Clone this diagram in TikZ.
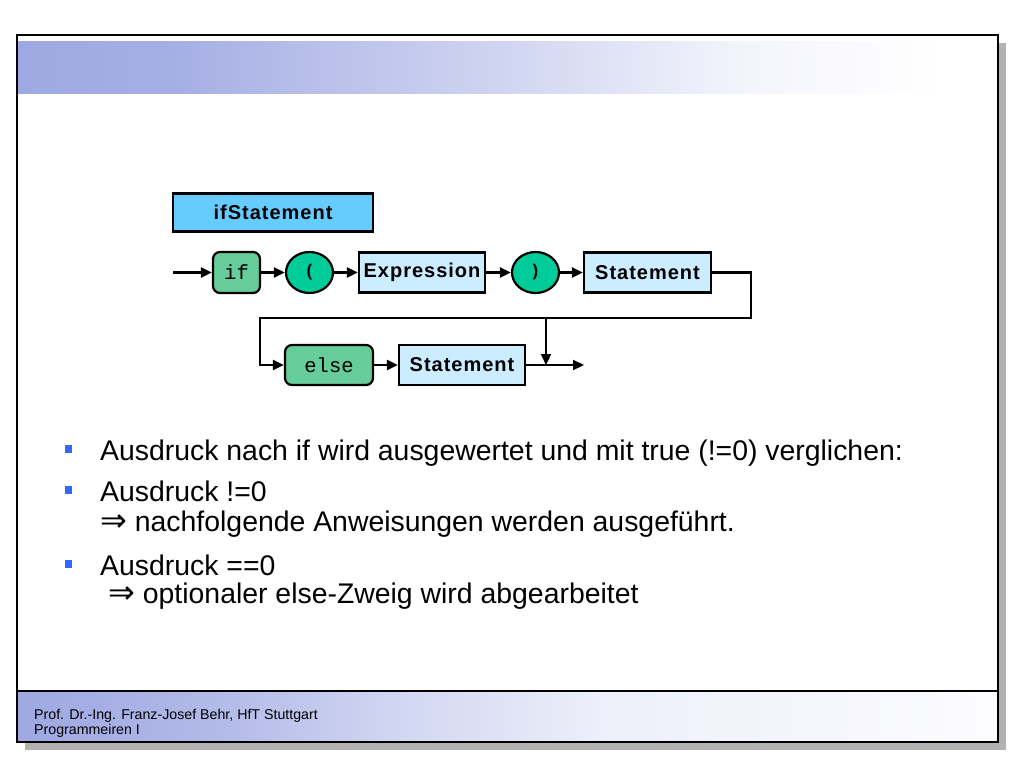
\documentclass[tikz,border=0pt]{standalone}
\usepackage{fontspec}
\setmainfont{Liberation Sans}
\setmonofont{Liberation Mono}
\newfontfamily\diagfont[LetterSpace=5]{Liberation Sans}
\newfontfamily\arrowfont{DejaVu Sans}
\usetikzlibrary{arrows.meta,shapes.geometric}

\definecolor{hdr}{RGB}{158,168,226}
\definecolor{boxblue}{RGB}{102,204,255}
\definecolor{lightblue}{RGB}{204,236,255}
\definecolor{termgreen}{RGB}{102,204,153}
\definecolor{circgreen}{RGB}{0,204,153}
\definecolor{bulletblue}{RGB}{51,102,255}
\definecolor{shadowgray}{RGB}{178,178,178}

\pgfdeclarehorizontalshading{hdrshade}{100bp}{color(0bp)=(hdr); color(25bp)=(hdr); color(33bp)=(hdr!92!white); color(50bp)=(hdr!48!white); color(62bp)=(hdr!12!white); color(72bp)=(white); color(100bp)=(white)}
\pgfdeclarehorizontalshading{ftrshade}{100bp}{color(0bp)=(hdr); color(25bp)=(hdr); color(35bp)=(hdr!80!white); color(45bp)=(hdr!45!white); color(55bp)=(hdr!18!white); color(75bp)=(white!97!hdr); color(100bp)=(white!97!hdr)}

\tikzset{
  conn/.style={line width=2.2pt, draw=black},
  arr/.style={conn, -{Triangle[length=11pt,width=10pt]}},
  nonterm/.style={draw=black, line width=2.2pt, fill=lightblue, minimum height=40pt, inner sep=0pt, font=\fontsize{20}{22}\diagfont\bfseries},
  term/.style={draw=black, line width=2.2pt, fill=termgreen, rounded corners=7pt, minimum height=41pt, inner sep=0pt, font=\fontsize{20.5}{22}\selectfont\ttfamily},
  circ/.style={draw=black, line width=2.2pt, fill=circgreen, ellipse, minimum width=47pt, minimum height=41pt, inner sep=0pt, font=\fontsize{17}{20}\selectfont\bfseries},
  bodytext/.style={anchor=base west, inner sep=0pt, text height=20pt, text depth=6pt, font=\fontsize{28.4}{32}\selectfont},
  bulletsq/.style={fill=bulletblue, minimum width=7pt, minimum height=8pt, inner sep=0pt},
  foottext/.style={anchor=base west, inner sep=0pt, font=\fontsize{14.2}{16}\selectfont}
}
\newcommand{\impl}{{\fontsize{32}{32}\arrowfont ⇒}}

\begin{document}
\begin{tikzpicture}[x=1pt,y=-1pt]
\useasboundingbox (0,0) rectangle (1024,768);
\fill[white] (0,0) rectangle (1024,768);
% slide frame with shadow
\fill[shadowgray] (25,43) rectangle (1006,750);
\fill[white] (17,35) rectangle (998,742);
\shade[shading=hdrshade] (17,42) rectangle (998,93);
\shade[shading=ftrshade] (17,691) rectangle (998,742);
\draw[line width=1.5pt] (17,35) rectangle (998,742);
\draw[line width=1.5pt] (17,691) -- (998,691);

% syntax diagram
\node[nonterm, fill=boxblue, minimum width=200pt, minimum height=38pt] (ifst) at (273,212.5) {ifStatement};
\coordinate (start) at (173,272.5);
\node[term, minimum width=47pt] (kif) at (236.5,272.5) {if};
\node[circ] (lp) at (309.5,272.5) {(};
\node[nonterm, minimum width=126pt] (expr) at (422,272.5) {Expression};
\node[circ] (rp) at (535.5,272.5) {)};
\node[nonterm, minimum width=127pt] (st1) at (647.5,272.5) {Statement};
\node[term, minimum width=88pt, minimum height=40pt] (kelse) at (329,365) {else};
\node[nonterm, minimum width=126pt] (st2) at (462,365) {Statement};
\coordinate (r) at (751,318);
\coordinate (l) at (260,318);
\coordinate (j) at (546,318);
\coordinate (stop) at (584,365);

\draw[arr] (start) -- (kif);
\draw[arr] (kif) -- (lp);
\draw[arr] (lp) -- (expr);
\draw[arr] (expr) -- (rp);
\draw[arr] (rp) -- (st1);
\draw[arr] (st1.east) -| (r) -- (l) |- (kelse.west);
\draw[arr] (kelse) -- (st2);
\draw[arr] (j) -- (j |- st2.east);
\draw[arr] (st2.east) -- (stop);

% bullet list
\node[bulletsq] (b1) at (68.5,449) {};
\node[bodytext] (t1) at (100,460) {Ausdruck nach if wird ausgewertet und mit true (!=0) verglichen:};
\node[bulletsq] (b2) at (68.5,490) {};
\node[bodytext] (t2) at (100,501) {Ausdruck !=0};
\node[bodytext] (t3) at (100,531) {\impl{} nachfolgende Anweisungen werden ausgeführt.};
\node[bulletsq] (b3) at (68.5,564) {};
\node[bodytext, text depth=0pt] (t4) at (100,575) {Ausdruck ==0};
\node[bodytext] (t5) at (108,603) {\impl{} optionaler else-Zweig wird abgearbeitet};

% footer
\node[foottext] (f1) at (34,719) {Prof. Dr.-Ing. Franz-Josef Behr, HfT Stuttgart};
\node[foottext] (f2) at (34,734) {Programmeiren I};
\end{tikzpicture}
\end{document}
